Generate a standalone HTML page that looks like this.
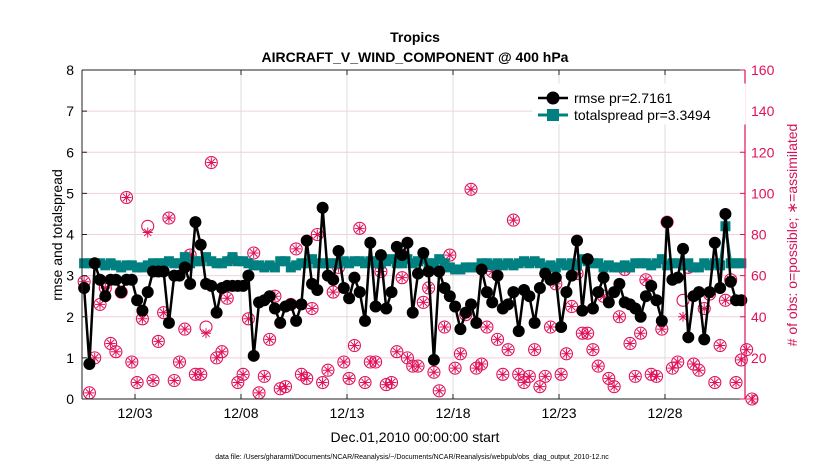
<!DOCTYPE html>
<html><head><meta charset="utf-8"><style>
body{margin:0;background:#fff;}
svg{display:block;font-family:"Liberation Sans",sans-serif;}
</style></head><body>
<svg id="chart" width="830" height="470" viewBox="0 0 830 470">
<rect width="830" height="470" fill="#fff"/>
<g id="grid"></g>
<g id="marks"></g>
<g id="axes"></g>
<text x="415" y="42" text-anchor="middle" font-size="14" font-weight="bold">Tropics</text>
<text x="415" y="62" text-anchor="middle" font-size="14" font-weight="bold">AIRCRAFT_V_WIND_COMPONENT @ 400 hPa</text>
<text transform="translate(62,235) rotate(-90)" text-anchor="middle" font-size="14">rmse and totalspread</text>
<text transform="translate(797,235) rotate(-90)" text-anchor="middle" font-size="14" fill="#d4145a"># of obs: o=possible; ∗=assimilated</text>
<text x="415" y="442" text-anchor="middle" font-size="14">Dec.01,2010 00:00:00 start</text>
<text x="412" y="459" text-anchor="middle" font-size="7">data file: /Users/gharamti/Documents/NCAR/Reanalysis/~/Documents/NCAR/Reanalysis/webpub/obs_diag_output_2010-12.nc</text>
<g>
<rect x="533" y="84" width="212" height="40" fill="#fff" stroke="#fff"/>
<line x1="538" y1="98" x2="568" y2="98" stroke="#000" stroke-width="2.5"/>
<circle cx="553" cy="98" r="6.5" fill="#000"/>
<text x="574" y="103" font-size="14">rmse pr=2.7161</text>
<line x1="538" y1="115" x2="568" y2="115" stroke="#008080" stroke-width="3"/>
<rect x="547" y="109" width="12" height="12" fill="#008080"/>
<text x="574" y="120" font-size="14">totalspread pr=3.3494</text>
</g>
</svg>
<script>
const rmse=[2.7,0.85,3.3,2.9,2.5,2.9,2.9,2.6,2.9,2.9,2.4,2.15,2.6,3.1,3.1,3.1,1.85,3.0,3.0,3.2,2.8,4.3,3.75,2.8,2.75,2.1,2.7,2.75,2.75,2.75,2.75,3.0,1.05,2.35,2.4,2.5,2.2,1.85,2.25,2.3,1.9,2.3,3.85,2.8,2.65,4.65,3.0,2.9,3.6,2.7,2.45,2.95,2.6,1.9,3.8,2.25,3.5,2.2,2.6,3.7,3.5,3.8,2.1,3.05,3.55,3.1,0.95,3.1,2.7,2.5,2.25,1.7,2.1,2.3,1.85,3.15,2.6,2.35,3.0,2.2,2.3,2.6,1.65,2.65,2.5,1.85,2.7,3.05,2.9,2.95,1.75,2.6,3.0,3.85,2.15,3.4,2.2,2.6,2.95,2.35,2.6,2.8,2.35,2.3,2.2,2.0,2.5,2.75,2.4,1.9,4.3,2.9,2.95,3.65,1.5,2.5,2.6,1.45,2.6,3.8,2.7,4.5,2.85,2.4,2.4];
const spread=[3.3,3.3,3.3,3.3,3.25,3.3,3.25,3.2,3.25,3.25,3.2,3.2,3.25,3.3,3.3,3.3,3.35,3.3,3.3,3.45,3.3,3.35,3.35,3.45,3.35,3.3,3.3,3.35,3.45,3.35,3.35,3.3,3.25,3.25,3.2,3.25,3.2,3.35,3.35,3.2,3.25,3.3,3.3,3.4,3.3,3.3,3.3,3.3,3.3,3.35,3.3,3.35,3.35,3.3,3.35,3.3,3.3,3.35,3.4,3.3,3.3,3.4,3.3,3.35,3.4,3.3,3.3,3.4,3.3,3.2,3.15,3.15,3.2,3.2,3.2,3.3,3.3,3.25,3.3,3.25,3.3,3.25,3.3,3.35,3.3,3.35,3.3,3.2,3.25,3.2,3.3,3.25,3.3,3.25,3.4,3.35,3.3,3.3,3.2,3.25,3.2,3.2,3.25,3.2,3.3,3.3,3.3,3.25,3.3,3.4,3.25,3.3,3.3,3.25,3.3,3.2,3.2,3.3,3.25,3.3,3.25,4.2,3.3,3.3,3.3];
const possible=[57,3,20,46,54,27,23,52,98,18,8,39,84,9,28,42,88,9,18,34,70,12,12,35,115,20,23,49,68,8,12,39,71,3,11,29,50,5,6,46,73,12,10,44,80,8,14,52,64,18,10,26,83,8,18,18,62,7,8,23,59,20,16,16,47,54,13,4,35,70,15,22,41,102,15,17,35,62,29,12,24,87,12,8,11,24,6,11,35,56,12,22,45,61,32,32,24,16,50,10,6,40,63,27,11,32,58,12,11,34,86,15,18,48,64,17,14,44,51,8,26,48,58,8,19,24,0];
const assimilated=[57,3,20,46,54,27,23,52,98,18,8,39,81,9,28,42,88,9,18,34,70,12,12,32,115,20,23,49,68,8,12,39,71,3,11,29,50,5,6,46,73,12,10,44,80,8,14,52,64,18,10,26,83,8,18,18,62,7,8,23,59,20,16,16,47,54,13,4,35,70,15,22,41,102,15,17,35,62,29,12,24,87,12,8,11,24,6,11,35,56,12,22,45,61,32,32,24,16,50,10,6,40,63,27,11,32,58,12,11,34,86,15,18,40,64,17,14,44,51,8,26,48,58,8,19,24,0];
const yTicks=[0,1,2,3,4,5,6,7,8];
const y2Ticks=[0,20,40,60,80,100,120,140,160];
const xTickDays=[3,8,13,18,23,28];
const xTickLabels=["12/03","12/08","12/13","12/18","12/23","12/28"];

const NS="http://www.w3.org/2000/svg";
const L=82,R=745,T=70,B=399;
const xs=d=>135+(d-3)*21.2;
const ys=v=>B-(v/8)*(B-T);
const y2s=v=>B-(v/160)*(B-T);
const times=[];for(let i=0;i<possible.length;i++)times.push(0.6+i*0.25);
function mk(tag,attrs,parent){const e=document.createElementNS(NS,tag);for(const k in attrs)e.setAttribute(k,attrs[k]);parent.appendChild(e);return e;}
const grid=document.getElementById('grid'),marks=document.getElementById('marks'),axes=document.getElementById('axes');
mk('rect',{x:L,y:T,width:R-L,height:B-T,fill:'#fff'},grid);
y2Ticks.forEach(v=>{const g=mk('line',{x1:L,x2:R,y1:y2s(v),y2:y2s(v),stroke:'#f3cfdc','stroke-width':1},grid);

});
xTickDays.forEach(d=>{const g=mk('line',{x1:xs(d),x2:xs(d),y1:T,y2:B,stroke:'#dcdcdc','stroke-width':1},grid);

});
const pink='#e0105a';
possible.forEach((v,i)=>{const c=mk('circle',{cx:xs(times[i]),cy:y2s(v),r:6,fill:'none',stroke:pink,'stroke-width':1.1},marks);

});
assimilated.forEach((v,i)=>{const x=xs(times[i]),y=y2s(v);const g=mk('path',{d:`M${x-5} ${y}H${x+5}M${x} ${y-5}V${y+5}M${x-3.6} ${y-3.6}L${x+3.6} ${y+3.6}M${x-3.6} ${y+3.6}L${x+3.6} ${y-3.6}`,stroke:pink,'stroke-width':1,fill:'none'},marks);

});
const sp=mk('polyline',{points:spread.map((v,i)=>xs(times[i])+','+ys(v)).join(' '),fill:'none',stroke:'#008080','stroke-width':3},marks);


spread.forEach((v,i)=>{const r=mk('rect',{x:xs(times[i])-5,y:ys(v)-5,width:10,height:10,fill:'#008080'},marks);

});
const rl=mk('polyline',{points:rmse.map((v,i)=>xs(times[i])+','+ys(v)).join(' '),fill:'none',stroke:'#000','stroke-width':2.5},marks);


rmse.forEach((v,i)=>{const c=mk('circle',{cx:xs(times[i]),cy:ys(v),r:6,fill:'#000'},marks);

});
mk('line',{x1:L,x2:R,y1:B,y2:B,stroke:'#222','stroke-width':1},axes);
mk('line',{x1:L,x2:R,y1:T,y2:T,stroke:'#222','stroke-width':1},axes);
mk('line',{x1:L,x2:L,y1:T,y2:B,stroke:'#222','stroke-width':1},axes);
mk('line',{x1:R,x2:R,y1:T,y2:B,stroke:pink,'stroke-width':1.2},axes);
yTicks.forEach(v=>{const y=ys(v);mk('line',{x1:L,x2:L+5,y1:y,y2:y,stroke:'#222'},axes);
const t=mk('text',{x:L-8,y:y+5,'text-anchor':'end','font-size':14},axes);t.textContent=v;

});
y2Ticks.forEach(v=>{const y=y2s(v);mk('line',{x1:R-5,x2:R,y1:y,y2:y,stroke:pink},axes);
const t=mk('text',{x:R+6,y:y+5,'font-size':14,fill:pink},axes);t.textContent=v;

});
xTickDays.forEach((d,i)=>{const x=xs(d);mk('line',{x1:x,x2:x,y1:B,y2:B-5,stroke:'#222'},axes);
mk('line',{x1:x,x2:x,y1:T,y2:T+5,stroke:'#222'},axes);
const t=mk('text',{x:x,y:B+19,'text-anchor':'middle','font-size':14},axes);t.textContent=xTickLabels[i];

});
</script>
</body></html>
